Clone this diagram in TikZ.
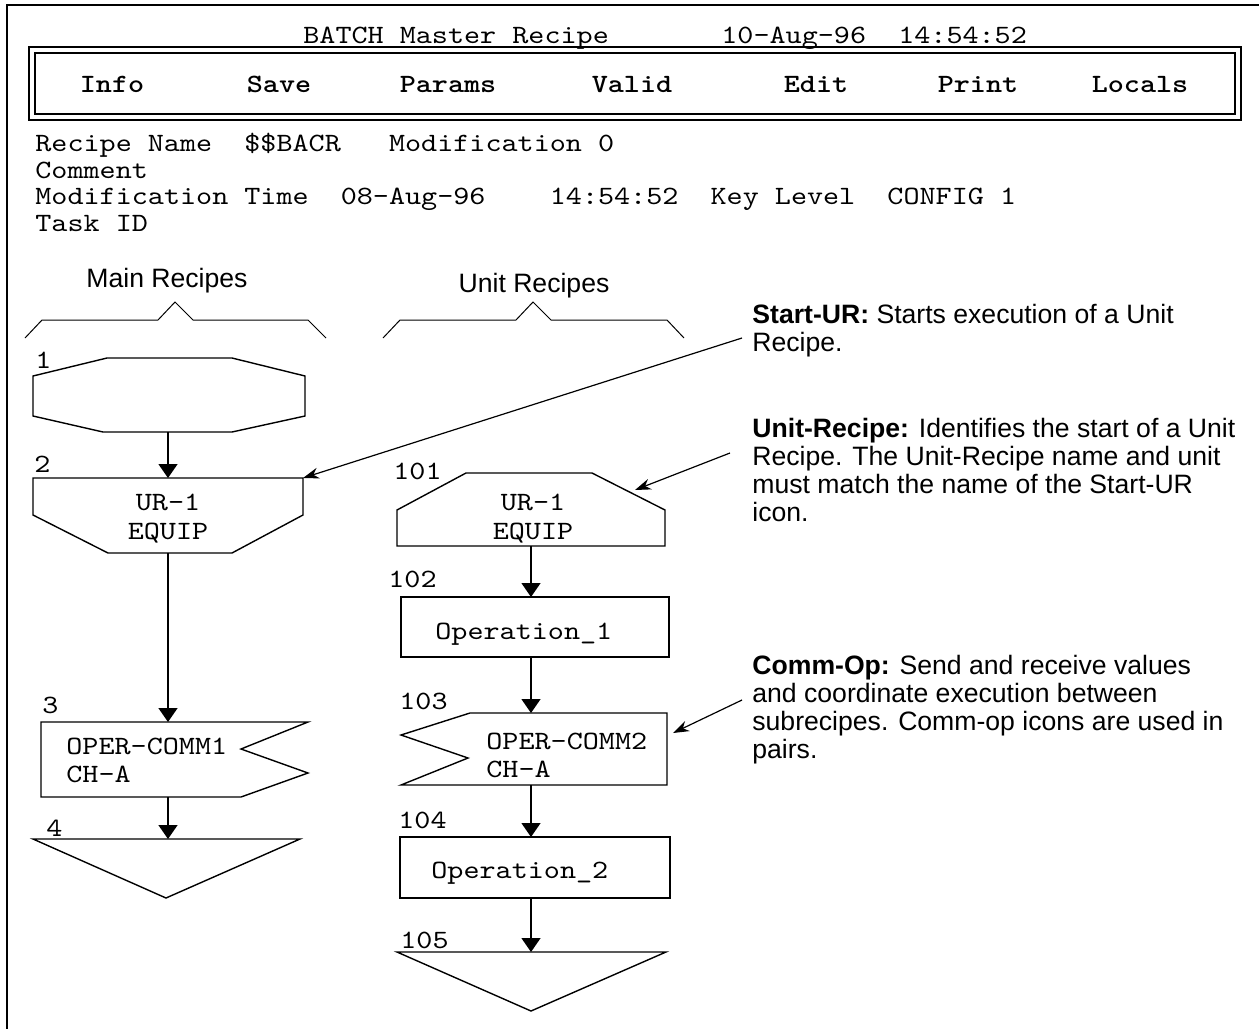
\documentclass[tikz,border=0pt]{standalone}
\usepackage{fontspec}
\setsansfont{Liberation Sans}
\newfontfamily\screenmono{lmmono10-regular.otf}[FakeStretch=1.16]
\newfontfamily\screenmonob{lmmonolt10-bold.otf}[FakeStretch=1.16]
\usetikzlibrary{arrows.meta}

\newcommand{\scrfont}{\screenmono\fontsize{13.2}{13.33}\selectfont}
\newcommand{\scrbold}{\screenmonob\fontsize{13.2}{13.33}\selectfont}
\newcommand{\notefont}{\sffamily\fontsize{13.3}{14}\selectfont}

\begin{document}
\begin{tikzpicture}[
    x=0.5pt, y=-0.5pt,
    >={Triangle[length=7pt, width=9.5pt]},
    icon/.style={line width=0.7pt},
    flow/.style={->, line width=0.7pt},
    callout/.style={-{Stealth[length=8pt, width=5.5pt]}, line width=0.6pt},
    mono/.style={font=\scrfont, inner sep=0pt},
    note/.style={font=\notefont, align=left, anchor=north west, inner sep=0pt},
]
\useasboundingbox (0,0) rectangle (1259,1029);

% === Screen frame ===
\draw[line width=1.3pt] (1259,5) -- (7,5) -- (7,1029);

% === Title line and menu bar ===
\node[mono, anchor=base west] (title) at (303,43)
    {BATCH Master Recipe\ \ \ \ \ \ \ 10-Aug-96\ \ 14:54:52};
\draw[line width=1.1pt] (29,47) rectangle (1241,120);
\draw[line width=1.1pt] (35,53) rectangle (1235,114);
\foreach \lbl/\cx in {Info/112, Save/279, Params/448, Valid/632, Edit/816, Print/978, Locals/1140}
    \node[mono, font=\scrbold, anchor=base] (menu\lbl) at (\cx,92) {\lbl};

% === Recipe header ===
\foreach \y/\txt [count=\i] in {
    151/{Recipe Name\ \ \$\$BACR\ \ \ Modification 0},
    178/{Comment},
    204/{Modification Time\ \ 08-Aug-96\ \ \ \ 14:54:52\ \ Key Level\ \ CONFIG 1},
    231/{Task ID}}
    \node[mono, anchor=base west] (info\i) at (35,\y) {\txt};

% === Column headings ===
\node[font=\notefont, anchor=base] (mainhead) at (167,287) {Main Recipes};
\node[font=\notefont, anchor=base] (unithead) at (534,292) {Unit Recipes};
\draw[line width=0.5pt] (25,338) -- (42,320) -- (158,320) -- (175,302) -- (193,320) -- (308,320) -- (326,338);
\draw[line width=0.5pt] (383,338) -- (400,320) -- (516,320) -- (533,302) -- (551,320) -- (667,320) -- (684,338);

% === Main recipe icons ===
% 1: start
\node[mono, anchor=base west] (lab1) at (35,368) {1};
\draw[icon] (107,358) -- (232,358) -- (305,376) -- (305,416) -- (232,432) -- (103,432) -- (33,416) -- (33,376) -- cycle;
\coordinate (m1s) at (168,432);

% 2: start unit recipe
\node[mono, anchor=base west] (lab2) at (34,472) {2};
\draw[icon] (33,478) -- (303,478) -- (303,515) -- (232,553) -- (108,553) -- (33,515) -- cycle;
\node[mono, anchor=base] (m2a) at (168,510) {UR-1};
\node[mono, anchor=base] (m2b) at (168,539) {EQUIP};
\coordinate (m2n) at (168,478);
\coordinate (m2s) at (168,553);
\coordinate (m2ne) at (303,478);

% 3: comm-op
\node[mono, anchor=base west] (lab3) at (42,713) {3};
\draw[icon] (41,722) -- (308,722) -- (241,749) -- (308,773) -- (241,797) -- (41,797) -- cycle;
\node[mono, anchor=base west] (m3a) at (66,754) {OPER-COMM1};
\node[mono, anchor=base west] (m3b) at (66,782) {CH-A};
\coordinate (m3n) at (168,722);
\coordinate (m3s) at (168,797);

% 4: end
\node[mono, anchor=base west] (lab4) at (46,836) {4};
\draw[icon] (33,839) -- (300,839) -- (166,898) -- cycle;
\coordinate (m4n) at (168,839);

\draw[flow] (m1s) -- (m2n);
\draw[flow] (m2s) -- (m3n);
\draw[flow] (m3s) -- (m4n);

% === Unit recipe icons ===
% 101: unit recipe
\node[mono, anchor=base west] (lab101) at (393,479) {101};
\draw[icon] (397,546) -- (397,510) -- (466,473) -- (592,473) -- (665,510) -- (665,546) -- cycle;
\node[mono, anchor=base] (u101a) at (533,510) {UR-1};
\node[mono, anchor=base] (u101b) at (533,539) {EQUIP};
\coordinate (u101s) at (531,546);
\coordinate (u101ne) at (635,490);

% 102: operation
\node[mono, anchor=base west] (lab102) at (388,587) {102};
\draw[icon] (401,597) rectangle (669,657);
\node[mono, anchor=base west] (u102a) at (435,639) {Operation\_1};
\coordinate (u102n) at (531,597);
\coordinate (u102s) at (531,657);

% 103: comm-op
\node[mono, anchor=base west] (lab103) at (399,709) {103};
\draw[icon] (470,713) -- (667,713) -- (667,785) -- (401,785) -- (468,758) -- (401,735) -- cycle;
\node[mono, anchor=base west] (u103a) at (486,749) {OPER-COMM2};
\node[mono, anchor=base west] (u103b) at (486,777) {CH-A};
\coordinate (u103n) at (531,713);
\coordinate (u103s) at (531,785);
\coordinate (u103e) at (673,733);

% 104: operation
\node[mono, anchor=base west] (lab104) at (398,828) {104};
\draw[icon] (400,837) rectangle (670,898);
\node[mono, anchor=base west] (u104a) at (431,878) {Operation\_2};
\coordinate (u104n) at (531,837);
\coordinate (u104s) at (531,898);

% 105: end
\node[mono, anchor=base west] (lab105) at (400,948) {105};
\draw[icon] (397,952) -- (666,952) -- (531,1011) -- cycle;
\coordinate (u105n) at (531,952);

\draw[flow] (u101s) -- (u102n);
\draw[flow] (u102s) -- (u103n);
\draw[flow] (u103s) -- (u104n);
\draw[flow] (u104s) -- (u105n);

% === Callouts ===
\node[note] (noteur) at (752,304) {\textbf{Start-UR:} Starts execution of a Unit\\Recipe.};
\node[note] (noteunit) at (752,418) {\textbf{Unit-Recipe:} Identifies the start of a Unit\\Recipe. The Unit-Recipe name and unit\\must match the name of the Start-UR\\icon.};
\node[note] (notecomm) at (752,655) {\textbf{Comm-Op:} Send and receive values\\and coordinate execution between\\subrecipes. Comm-op icons are used in\\pairs.};

\coordinate (cur) at (742,338);
\coordinate (cunit) at (730,453);
\coordinate (ccomm) at (742,700);
\draw[callout] (cur) -- (m2ne);
\draw[callout] (cunit) -- (u101ne);
\draw[callout] (ccomm) -- (u103e);

\end{tikzpicture}
\end{document}
